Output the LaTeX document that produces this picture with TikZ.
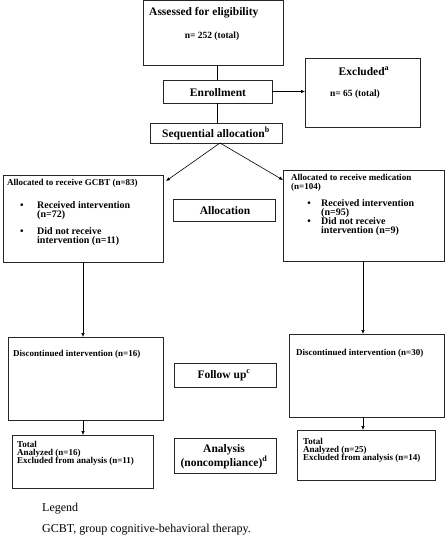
\documentclass[tikz,border=0pt]{standalone}
\usepackage{fontspec}
\setmainfont{Liberation Serif}
\usetikzlibrary{arrows.meta}
\newcommand\mybox[5]{\node[box, minimum width={(#4-#2)*1pt}, minimum height={(#5-#3)*1pt}] (#1) at (#2,#3) {};}
\begin{document}
\begin{tikzpicture}[x=1pt,y=-1pt,
  box/.style={draw=black!85, line width=0.7pt, inner sep=0pt, outer sep=0pt, anchor=north west},
  arr/.style={-{Latex[length=4pt,width=3.5pt]}, line width=0.6pt},
  ln/.style={line width=0.6pt},
  hd/.style={font=\fontsize{11.5}{13.5}\selectfont\bfseries, inner sep=0pt, anchor=base},
  nn/.style={font=\fontsize{9.5}{11}\selectfont\bfseries, inner sep=0pt, anchor=base},
  sm/.style={font=\fontsize{9}{10}\selectfont\bfseries, inner sep=0pt, anchor=base west},
  bl/.style={font=\fontsize{10}{8.7}\selectfont\bfseries, inner sep=0pt, anchor=base west},
  lg/.style={font=\fontsize{12}{14}\selectfont, inner sep=0pt, anchor=base west}
]
\useasboundingbox (0,0) rectangle (446,538);
% boxes
\mybox{assess}{143}{0}{283}{65}
\mybox{enrol}{163}{80}{272}{103}
\mybox{seq}{150}{123}{282}{143}
\mybox{excl}{305}{58}{420}{127}
\mybox{gcbt}{3}{175}{163}{262}
\mybox{med}{283}{170}{444}{261}
\mybox{alloc}{173}{199}{275}{221}
\mybox{discL}{8}{337}{163}{420}
\mybox{discR}{289}{334}{444}{417}
\mybox{follow}{174}{363}{276}{387}
\mybox{totL}{12}{435}{153}{488}
\mybox{totR}{297}{430}{435}{480}
\mybox{anal}{174}{438}{276}{473}
% texts
\node[hd, anchor=base west] (t1) at (149,16) {Assessed for eligibility};
\node[nn] (t2) at (212,38) {n= 252 (total)};
\node[hd] (t3) at (218,96) {Enrollment};
\node[hd] (t4) at (216,137) {Sequential allocation\textsuperscript{b}};
\node[hd] (t5) at (364,75) {Excluded\textsuperscript{a}};
\node[nn] (t6) at (355,96) {n= 65 (total)};
\node[sm] (t7) at (7,185) {Allocated to receive GCBT (n=83)};
\node[bl, anchor=base] (b1) at (22,208) {\textbullet};
\node[bl] (t8) at (37,208) {Received intervention};
\node[bl] (t9) at (37,217) {(n=72)};
\node[bl, anchor=base] (b2) at (22,234) {\textbullet};
\node[bl] (t10) at (37,234) {Did not receive};
\node[bl] (t11) at (37,243) {intervention (n=11)};
\node[sm] (t12) at (291,180) {Allocated to receive medication};
\node[sm] (t13) at (291,189) {(n=104)};
\node[bl, anchor=base] (b3) at (309,206) {\textbullet};
\node[bl] (t14) at (321,206) {Received intervention};
\node[bl] (t15) at (321,215) {(n=95)};
\node[bl, anchor=base] (b4) at (309,224) {\textbullet};
\node[bl] (t16) at (321,224) {Did not receive};
\node[bl] (t17) at (321,233) {intervention (n=9)};
\node[hd] (t18) at (225,214) {Allocation};
\node[sm] (t19) at (13,356) {Discontinued intervention (n=16)};
\node[sm] (t20) at (296,355) {Discontinued intervention (n=30)};
\node[hd] (t21) at (224,378) {Follow up\textsuperscript{c}};
\node[sm] (t22) at (17,447) {Total};
\node[sm] (t23) at (17,455) {Analyzed (n=16)};
\node[sm] (t24) at (17,463) {Excluded from analysis (n=11)};
\node[sm] (t25) at (303,444) {Total};
\node[sm] (t26) at (303,452) {Analyzed (n=25)};
\node[sm] (t27) at (303,460) {Excluded from analysis (n=14)};
\node[hd] (t28) at (224,452) {Analysis};
\node[hd] (t29) at (224,466) {(noncompliance)\textsuperscript{d}};
\node[lg] (t30) at (42,511) {Legend};
\node[lg] (t31) at (42,532) {GCBT, group cognitive-behavioral therapy.};
% connectors
\draw[ln] (assess.south -| enrol.north) -- (enrol.north);
\draw[ln] (enrol.south) -- (seq.north -| enrol.south);
\draw[arr] (enrol.east) -- (excl.west |- enrol.east);
\coordinate (split) at ([xshift=4pt]seq.south);
\draw[arr] (split) -- ([xshift=3pt,yshift=-6pt]gcbt.north east);
\draw[arr] (split) -- ([yshift=-10pt]med.north west);
\draw[arr] (gcbt.south -| 83,0) -- (discL.north -| 83,0);
\draw[arr] (med.south -| 363,0) -- (discR.north -| 363,0);
\draw[arr] (discL.south -| 83,0) -- (totL.north -| 83,0);
\draw[arr] (discR.south -| 363,0) -- (totR.north -| 363,0);
\end{tikzpicture}
\end{document}
